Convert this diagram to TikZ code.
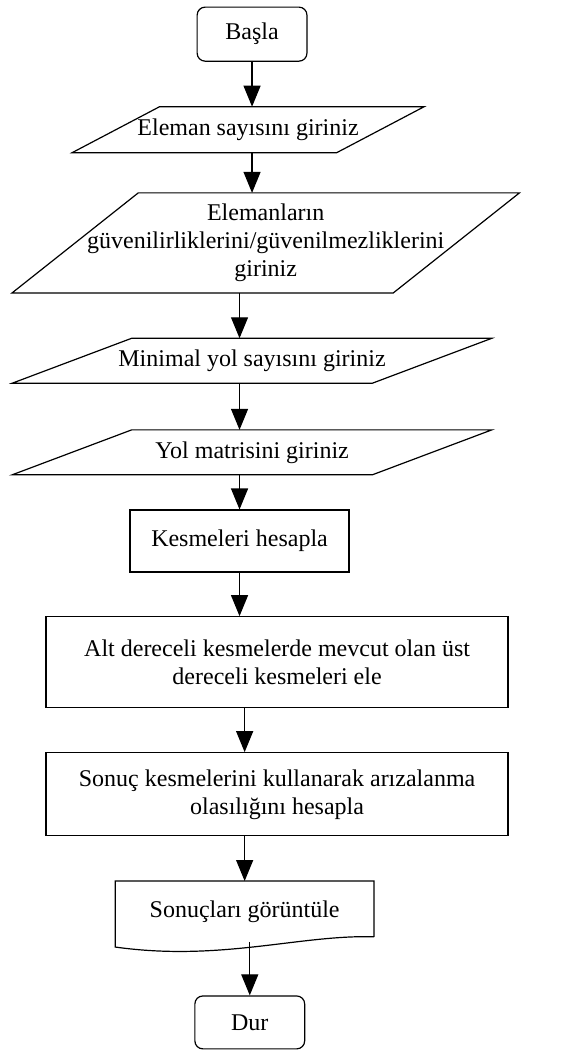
\documentclass[tikz,border=0pt]{standalone}
\usepackage{fontspec}
\setmainfont{Liberation Serif}
\usetikzlibrary{arrows.meta}
\tikzset{
  term/.style={draw,line width=0.6pt,rounded corners=4pt,minimum width=1.93cm},
  io/.style={inner sep=0pt,outer sep=0pt,align=center},
  proc/.style={draw,line width=0.6pt,inner sep=0pt,align=center},
  arr/.style={line width=0.6pt,-{Triangle[width=8.5pt,length=10.5pt]}}
}
\begin{document}
\begin{tikzpicture}[font=\fontsize{12}{14}\selectfont]
\useasboundingbox (0,0) rectangle (10.12,-18.49);
\node[term,minimum height=0.95cm] (basla) at (4.43,-0.60) {Başla};
\node[io,minimum width=4.65cm,minimum height=0.81cm] (e1) at (4.36,-2.28) {Eleman sayısını giriniz};
\draw[line width=0.6pt] ([xshift=0.77cm]e1.north west) -- ([xshift=0.77cm]e1.north east) -- ([xshift=-0.77cm]e1.south east) -- ([xshift=-0.77cm]e1.south west) -- cycle;
\node[io,minimum width=6.70cm,minimum height=1.76cm] (e2) at (4.67,-4.27) {Elemanların\\güvenilirliklerini/güvenilmezliklerini\\giriniz};
\draw[line width=0.6pt] ([xshift=1.11cm]e2.north west) -- ([xshift=1.11cm]e2.north east) -- ([xshift=-1.11cm]e2.south east) -- ([xshift=-1.11cm]e2.south west) -- cycle;
\node[io,minimum width=6.33cm,minimum height=0.79cm] (e3) at (4.43,-6.34) {Minimal yol sayısını giriniz};
\draw[line width=0.6pt] ([xshift=1.05cm]e3.north west) -- ([xshift=1.05cm]e3.north east) -- ([xshift=-1.05cm]e3.south east) -- ([xshift=-1.05cm]e3.south west) -- cycle;
\node[io,minimum width=6.33cm,minimum height=0.79cm] (e4) at (4.43,-7.95) {Yol matrisini giriniz};
\draw[line width=0.6pt] ([xshift=1.05cm]e4.north west) -- ([xshift=1.05cm]e4.north east) -- ([xshift=-1.05cm]e4.south east) -- ([xshift=-1.05cm]e4.south west) -- cycle;
\node[proc,minimum width=3.85cm,minimum height=1.09cm] (k) at (4.21,-9.51) {Kesmeleri hesapla};
\node[proc,minimum width=8.12cm,minimum height=1.60cm] (alt) at (4.87,-11.64) {Alt dereceli kesmelerde mevcut olan üst\\dereceli kesmeleri ele};
\node[proc,minimum width=8.12cm,minimum height=1.46cm] (sonuc) at (4.87,-13.96) {Sonuç kesmelerini kullanarak arızalanma\\olasılığını hesapla};
\node[io,minimum width=4.55cm,minimum height=1.07cm] (doc) at (4.30,-16.02) {Sonuçları görüntüle};
\draw[line width=0.6pt] ([yshift=0.09cm]doc.south east) -- (doc.north east) -- (doc.north west) -- ([yshift=-0.09cm]doc.south west) .. controls +(1.85,-0.26) and +(-1.30,0.04) .. ([yshift=0.09cm]doc.south east);
\node[term,minimum height=0.93cm] (dur) at (4.39,-17.97) {Dur};
% baglantilar
\draw[arr] (basla) -- (e1.north -| basla);
\draw[arr] (e1.south -| basla) -- (e2.north -| basla);
\draw[arr] (e2.south -| k) -- (e3.north -| k);
\draw[arr] (e3.south -| k) -- (e4.north -| k);
\draw[arr] (e4.south -| k) -- (k);
\draw[arr] (k) -- (alt.north -| k);
\draw[arr] (alt.south -| doc) -- (sonuc.north -| doc);
\draw[arr] (sonuc.south -| doc) -- (doc.north);
\draw[arr] (doc.south -| dur) -- (dur);
\end{tikzpicture}
\end{document}
